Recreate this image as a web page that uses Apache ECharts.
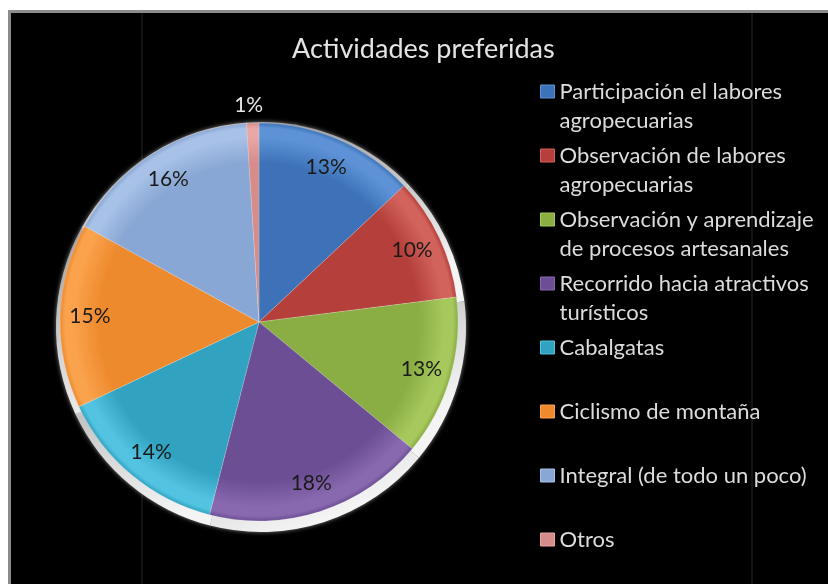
<!DOCTYPE html>
<html>
<head>
<meta charset="utf-8">
<script src="https://cdn.jsdelivr.net/npm/echarts@6/dist/echarts.min.js"></script>
<style>
  html, body { margin: 0; padding: 0; background: #ffffff; width: 828px; height: 584px; overflow: hidden; }
  #frame { position: absolute; left: 8px; top: 10px; width: 820px; height: 574px;
           border-left: 3px solid #8c8c8c; border-top: 3px solid #8c8c8c; box-sizing: border-box; }
  #chart { position: absolute; left: 11px; top: 13px; width: 817px; height: 571px; background: #000000; }
</style>
</head>
<body>
<div id="frame"></div>
<div id="chart"></div>
<script>
// Activities and their share (%) of preferences
const categories = [
  'Participación el labores\nagropecuarias',
  'Observación de labores\nagropecuarias',
  'Observación y aprendizaje\nde procesos artesanales',
  'Recorrido hacia atractivos\nturísticos',
  'Cabalgatas',
  'Ciclismo de montaña',
  'Integral (de todo un poco)',
  'Otros'
];
const shares = [13, 10, 13, 18, 14, 15, 16, 1];

// Base / rim colours for each slice
const baseColors = ['#3D72B8', '#B53F3B', '#8AAD44', '#6C4E95', '#31A2C0', '#EE8A2E', '#89A7D4', '#D58C8A'];
const rimColors  = ['#5D93D6', '#D2625C', '#A6C85C', '#8869B0', '#52C4E2', '#FAA24C', '#A7C1E7', '#E8A8A6'];

const CX = 248, CY = 309, R = 199;

function sliceGradient(i) {
  return {
    type: 'radial', x: CX, y: CY, r: R, global: true,
    colorStops: [
      { offset: 0, color: baseColors[i] },
      { offset: 0.80, color: baseColors[i] },
      { offset: 0.93, color: rimColors[i] },
      { offset: 0.975, color: rimColors[i] },
      { offset: 1, color: baseColors[i] }
    ]
  };
}

const sliceData = categories.map((name, i) => ({
  name: name,
  value: shares[i],
  itemStyle: { color: sliceGradient(i) }
}));

const lastIndex = categories.length - 1;
const labelData = categories.map((name, i) => {
  const d = { name: name, value: shares[i] };
  if (i === lastIndex) {
    d.label = { position: 'outside', color: '#e6e6e6', distanceToLabelLine: 0 };
    d.labelLine = { show: false, length: 18, length2: 0 };
  }
  return d;
});

// Every legend entry is laid out as three rows (blank, first line, second line)
// so that the marker sits beside the first line and all entries share one pitch.
function legendText(name) {
  const lines = name.split('\n');
  return ' \n' + lines[0] + '\n' + (lines[1] || ' ');
}

const chart = echarts.init(document.getElementById('chart'));
chart.setOption({
  backgroundColor: '#000000',
  animation: false,
  title: {
    text: 'Actividades preferidas',
    left: 281, top: 23, padding: 0,
    textStyle: { color: '#e4e4e4', fontFamily: 'Lato', fontSize: 27, fontWeight: 'normal' }
  },
  legend: {
    orient: 'vertical',
    left: 529, top: 35, height: 600, padding: 0,
    itemWidth: 14, itemHeight: 13, itemGap: -23,
    icon: 'rect',
    data: categories.map((name, i) => ({ name: name, itemStyle: { color: baseColors[i], borderColor: rimColors[i], borderWidth: 1 } })),
    formatter: legendText,
    textStyle: { color: '#dcdcdc', fontFamily: 'Lato', fontSize: 22, lineHeight: 29 }
  },
  graphic: [
    { type: 'line', shape: { x1: 131, y1: 0, x2: 131, y2: 571 }, style: { stroke: '#262626', lineWidth: 1 }, silent: true, z: -1 },
    { type: 'line', shape: { x1: 741, y1: 0, x2: 741, y2: 571 }, style: { stroke: '#262626', lineWidth: 1 }, silent: true, z: -1 }
  ],
  series: [
    {
      // light rim under the pie
      type: 'pie', name: 'rim', silent: true, z: 1,
      center: [CX + 2, CY + 5], radius: R + 6,
      startAngle: 90, clockwise: true,
      label: { show: false }, labelLine: { show: false },
      itemStyle: {
        color: {
          type: 'linear', x: 0, y: 0, x2: 0.4, y2: 1,
          colorStops: [{ offset: 0, color: '#9a9a9a' }, { offset: 0.6, color: '#d6d6d6' }, { offset: 1, color: '#f4f4f4' }]
        },
        shadowBlur: 4, shadowColor: 'rgba(255,255,255,0.5)'
      },
      data: categories.map((name, i) => ({ name: name, value: shares[i] }))
    },
    {
      type: 'pie', name: 'Actividades preferidas', z: 2,
      center: [CX, CY], radius: R,
      startAngle: 90, clockwise: true,
      label: { show: false }, labelLine: { show: false },
      itemStyle: { borderColor: 'rgba(255,255,255,0.18)', borderWidth: 1 },
      data: sliceData
    },
    {
      // percentage labels, placed near the outer part of each slice
      type: 'pie', name: 'labels', silent: true, z: 3,
      center: [CX, CY], radius: [R * 0.67, R],
      startAngle: 90, clockwise: true,
      itemStyle: { color: 'rgba(0,0,0,0)' },
      label: {
        show: true, position: 'inside',
        formatter: p => p.value + '%',
        color: '#1a1a1a', fontFamily: 'Lato', fontSize: 21
      },
      labelLine: { show: false },
      labelLayout: p => (p.dataIndex === lastIndex ? { dx: 11 } : {}),
      data: labelData
    }
  ]
});
</script>
</body>
</html>
